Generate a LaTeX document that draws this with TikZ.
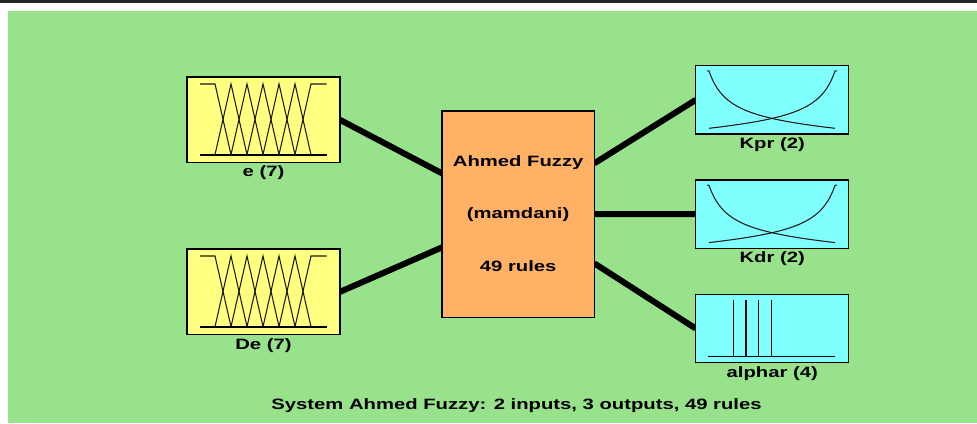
\documentclass[tikz,border=0pt]{standalone}
\usepackage{fontspec}
\newfontfamily\figfont{Liberation Sans}[FakeStretch=1.35]
\definecolor{panelgreen}{RGB}{152,226,140}
\definecolor{inyellow}{RGB}{255,255,128}
\definecolor{sysorange}{RGB}{255,178,102}
\definecolor{outcyan}{RGB}{128,255,255}
\pgfdeclarelayer{panel}
\pgfdeclarelayer{links}
\pgfsetlayers{panel,links,main}

\begin{document}
\begin{tikzpicture}[x=1pt,y=-1pt,
  txt/.style={font=\figfont\bfseries\fontsize{15}{18}\selectfont, inner sep=0pt, text=black},
  varbox/.style={draw=black, line width=1.4pt, inner sep=0pt, outer sep=0pt,
                 minimum width=153pt, anchor=north west},
  inbox/.style={varbox, fill=inyellow, minimum height=85.7pt},
  outbox/.style={varbox, fill=outcyan, minimum height=68.4pt},
  sysbox/.style={varbox, fill=sysorange, minimum width=152.3pt, minimum height=206.3pt},
  link/.style={line width=6pt, black},
  mf/.style={line width=1.05pt, black!90},
  axisline/.style={line width=1.8pt, black}]

\useasboundingbox (0,0) rectangle (977,423);

% frame: dark rule on top, green panel below
\begin{pgfonlayer}{panel}
  \fill[white] (0,0) rectangle (977,423);
  \fill[black!85] (0,0) rectangle (977,2.7);
  \fill[panelgreen] (8,11) rectangle (977,423);
\end{pgfonlayer}

% variable boxes
\node[inbox] (e) at (187,77) {};
\node[inbox] (De) at (187,249) {};
\node[sysbox] (sys) at (442,111) {};
\node[outbox] (Kpr) at (695.7,65.7) {};
\node[outbox] (Kdr) at (695.7,180) {};
\node[outbox] (alphar) at (695.7,294.3) {};

% labels
\node[txt] (eL) at ([yshift=-10pt]e.south) {e (7)};
\node[txt] (DeL) at ([yshift=-10.5pt]De.south) {De (7)};
\node[txt] (KprL) at ([yshift=-10.3pt]Kpr.south) {Kpr (2)};
\node[txt] (KdrL) at ([yshift=-10.3pt]Kdr.south) {Kdr (2)};
\node[txt] (alpharL) at ([yshift=-10.6pt]alphar.south) {alphar (4)};
\node[txt] (sysA) at ([yshift=51.7pt]sys.center) {Ahmed Fuzzy};
\node[txt] (sysB) at (sys.center) {(mamdani)};
\node[txt] (sysC) at ([yshift=-51.7pt]sys.center) {49 rules};
\node[txt] (title) at (516.5,406) {System Ahmed Fuzzy: 2 inputs, 3 outputs, 49 rules};

% connectors
\begin{pgfonlayer}{links}
  \draw[link] (e.east) -- ([yshift=40.8pt]sys.west);
  \draw[link] (De.east) -- ([yshift=-33.2pt]sys.west);
  \draw[link] ([yshift=50.8pt]sys.east) -- (Kpr.west);
  \draw[link] (sys.east) -- (Kdr.west);
  \draw[link] ([yshift=-49.2pt]sys.east) -- (alphar.west);
\end{pgfonlayer}

% seven triangular sets with shoulders
\foreach \vname in {e,De}{
  \begin{scope}[shift={(\vname.north west)}]
    \draw[axisline] (13,77.7) -- (139.7,77.7);
    \draw[mf] (13,7) -- (28,7) -- (44,77.7);
    \foreach \i in {1,...,5}{
      \draw[mf] ({12+16*\i},77.7) -- ({28+16*\i},7) -- ({44+16*\i},77.7);
    }
    \draw[mf] (108,77.7) -- (124,7) -- (139.7,7);
  \end{scope}
}

% two decreasing/increasing sets
\foreach \vname in {Kpr,Kdr}{
  \begin{scope}[shift={(\vname.north west)}]
    \draw[mf] (11.3,5.1) -- (13.3,5.3)
      plot[domain=0:1, samples=80, smooth]
      ({13.3+126*\x},{5.3+57.3*(1-(1/(1+6.3*\x)-\x/7.3))});
    \draw[mf] (141.3,5.1) -- (139.3,5.3)
      plot[domain=0:1, samples=80, smooth]
      ({139.3-126*\x},{5.3+57.3*(1-(1/(1+6.3*\x)-\x/7.3))});
  \end{scope}
}

% four singletons
\begin{scope}[shift={(alphar.north west)}]
  \draw[axisline, line width=1.5pt] (12.3,62.4) -- (139.3,62.4);
  \foreach \x in {37.6,50.3,63,75.6}{
    \draw[line width=1.3pt, black] (\x,62.4) -- (\x,5.7);
  }
\end{scope}
\end{tikzpicture}
\end{document}
